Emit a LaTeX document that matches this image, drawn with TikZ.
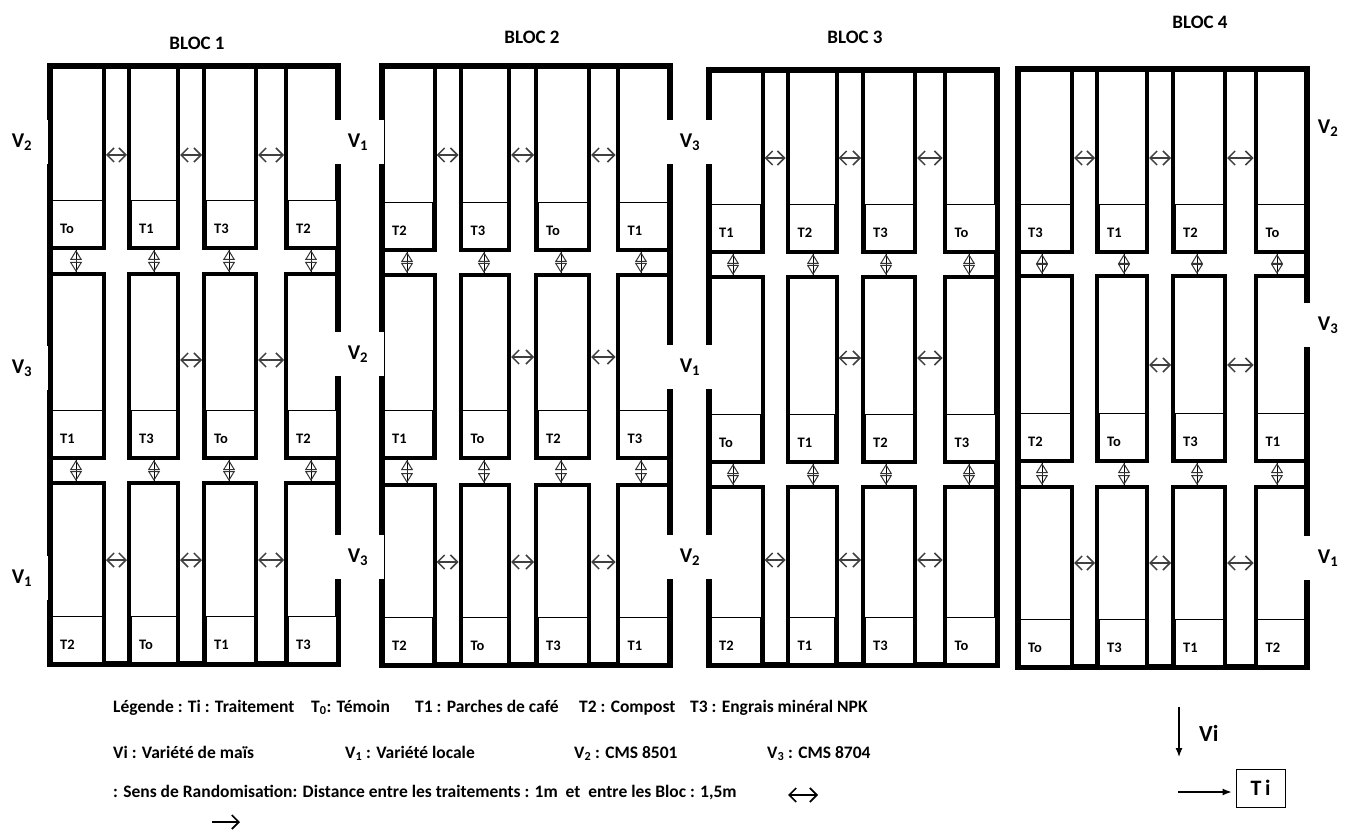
\documentclass[tikz,border=0pt]{standalone}
\usepackage{fontspec}
\setmainfont{Carlito}
\usetikzlibrary{arrows.meta}

\tikzset{
  blocline/.style={line width=6pt},
  plotline/.style={line width=4pt},
  tagbox/.style={draw, line width=0.8pt, fill=white},
  plotlabel/.style={anchor=west, inner sep=0pt, font=\bfseries\fontsize{14.5}{14.5}\selectfont},
  varlab/.style={fill=white, minimum width=52pt, minimum height=44pt, inner sep=0pt, font=\bfseries\fontsize{21}{21}\selectfont},
  bloctitle/.style={font=\bfseries\fontsize{19}{19}\selectfont},
  legende/.style={anchor=base west, inner sep=0pt, font=\bfseries\fontsize{17.5}{17.5}\selectfont},
  hfleche/.style={{Straight Barb[length=7pt,width=14pt]}-{Straight Barb[length=7pt,width=14pt]}, line width=1.5pt, black!75},
  vfleche/.style={{Triangle[open,length=10pt,width=12pt]}-{Triangle[open,length=10pt,width=12pt]}, line width=1pt, black!80},
}

% one plot: x left, x right, y top, y bottom, treatment
\newcommand{\parcelle}[5]{%
  \draw[plotline] (#1,#3) rectangle (#2,#4);
  \draw[tagbox] (#1+2,#4-48) rectangle (#2-2,#4-2);
  \node[plotlabel] at (#1+10,#4-19) {#5};
}

\begin{document}
\begin{tikzpicture}[x=1pt,y=-1pt]
\path[use as bounding box, fill=white] (0,0) rectangle (1349,834);

% BLOC 1
\node[bloctitle] (titre1) at (197,43) {BLOC 1};
\draw[blocline] (50,66) rectangle (338,664);
\foreach \yt/\yb/\ta/\tb/\tc/\td in {66/248/To/T1/T3/T2, 274/458/T1/T3/To/T2, 483/664/T2/To/T1/T3}{
  \parcelle{50}{104}{\yt}{\yb}{\ta}
  \parcelle{129}{178}{\yt}{\yb}{\tb}
  \parcelle{204}{256}{\yt}{\yb}{\tc}
  \parcelle{286}{338}{\yt}{\yb}{\td}
}
\foreach \ya in {155,560} \draw[hfleche] (106,\ya) -- (127,\ya);
\foreach \ya in {155,360,560} {\draw[hfleche] (180,\ya) -- (202,\ya); \draw[hfleche] (258,\ya) -- (284,\ya);}
\foreach \xv in {76,154,229,311} {
  \draw[line width=0.7pt] (\xv,250) -- (\xv,272); \draw[vfleche] (\xv,250) -- (\xv,272);
  \draw[line width=0.7pt] (\xv,460) -- (\xv,481); \draw[vfleche] (\xv,460) -- (\xv,481);
}

% BLOC 2
\node[bloctitle] (titre2) at (532,37) {BLOC 2};
\draw[blocline] (382,66.5) rectangle (669.5,665);
\foreach \yt/\yb/\ta/\tb/\tc/\td in {66.5/250/T2/T3/To/T1, 275/458/T1/To/T2/T3, 485/665/T2/To/T3/T1}{
  \parcelle{382}{434.5}{\yt}{\yb}{\ta}
  \parcelle{460.5}{509}{\yt}{\yb}{\tb}
  \parcelle{536}{589}{\yt}{\yb}{\tc}
  \parcelle{617.5}{669.5}{\yt}{\yb}{\td}
}
\foreach \ya in {155,562} \draw[hfleche] (436.5,\ya) -- (458.5,\ya);
\foreach \ya in {155,357,562} {\draw[hfleche] (511,\ya) -- (534,\ya); \draw[hfleche] (591,\ya) -- (615.5,\ya);}
\foreach \xv in {407,484,561,641} {
  \draw[line width=0.7pt] (\xv,252) -- (\xv,273); \draw[vfleche] (\xv,252) -- (\xv,273);
  \draw[line width=0.7pt] (\xv,460) -- (\xv,483); \draw[vfleche] (\xv,460) -- (\xv,483);
}

% BLOC 3
\node[bloctitle] (titre3) at (855,37) {BLOC 3};
\draw[blocline] (709,70) rectangle (997,665);
\foreach \yt/\yb/\ta/\tb/\tc/\td in {70/252/T1/T2/T3/To, 277/462/To/T1/T2/T3, 487/665/T2/T1/T3/To}{
  \parcelle{709}{762.5}{\yt}{\yb}{\ta}
  \parcelle{787.5}{836.5}{\yt}{\yb}{\tb}
  \parcelle{863}{915}{\yt}{\yb}{\tc}
  \parcelle{944.5}{997}{\yt}{\yb}{\td}
}
\foreach \ya in {158,560} \draw[hfleche] (764.5,\ya) -- (785.5,\ya);
\foreach \ya in {158,358,560} {\draw[hfleche] (838.5,\ya) -- (861,\ya); \draw[hfleche] (917,\ya) -- (942.5,\ya);}
\foreach \xv in {733,813,886,969} {
  \draw[line width=0.7pt] (\xv,254) -- (\xv,275); \draw[vfleche] (\xv,254) -- (\xv,275);
  \draw[line width=0.7pt] (\xv,464) -- (\xv,485); \draw[vfleche] (\xv,464) -- (\xv,485);
}

% BLOC 4
\node[bloctitle] (titre4) at (1200,22) {BLOC 4};
\draw[blocline] (1018,69.5) rectangle (1306.5,667);
\foreach \yt/\yb/\ta/\tb/\tc/\td in {69.5/252/T3/T1/T2/To, 276/461/T2/To/T3/T1, 487/667/To/T3/T1/T2}{
  \parcelle{1018}{1072}{\yt}{\yb}{\ta}
  \parcelle{1097}{1147}{\yt}{\yb}{\tb}
  \parcelle{1173}{1225}{\yt}{\yb}{\tc}
  \parcelle{1255.5}{1306.5}{\yt}{\yb}{\td}
}
\foreach \ya in {158,563} \draw[hfleche] (1074,\ya) -- (1095,\ya);
\foreach \ya in {158,365,563} {\draw[hfleche] (1149,\ya) -- (1171,\ya); \draw[hfleche] (1227,\ya) -- (1253.5,\ya);}
\foreach \xv in {1042,1124,1197,1277} {
  \draw[line width=0.7pt] (\xv,254) -- (\xv,274); \draw[vfleche] (\xv,254) -- (\xv,274);
  \draw[line width=0.7pt] (\xv,463) -- (\xv,485); \draw[vfleche] (\xv,463) -- (\xv,485);
}

% varietes
\node[varlab] (v1a) at (22,142) {V\textsubscript{2}};
\node[varlab] (v1b) at (22,368) {V\textsubscript{3}};
\node[varlab] (v1c) at (22,578) {V\textsubscript{1}};
\node[varlab] (v2a) at (358,142) {V\textsubscript{1}};
\node[varlab] (v2b) at (358,354) {V\textsubscript{2}};
\node[varlab] (v2c) at (358,557) {V\textsubscript{3}};
\node[varlab] (v3a) at (690,142) {V\textsubscript{3}};
\node[varlab] (v3b) at (690,367) {V\textsubscript{1}};
\node[varlab] (v3c) at (690,557) {V\textsubscript{2}};
\node[varlab, fill=none] (v4a) at (1328,128) {V\textsubscript{2}};
\node[varlab] (v4b) at (1328,325) {V\textsubscript{3}};
\node[varlab] (v4c) at (1328,558) {V\textsubscript{1}};

% legende
\node[legende] (leg1) at (113,712) {Légende : Ti : Traitement};
\node[legende] (leg2) at (311,712) {T\textsubscript{0}: Témoin};
\node[legende] (leg3) at (415,712) {T1 : Parches de café};
\node[legende] (leg4) at (579,712) {T2 : Compost};
\node[legende] (leg5) at (690,712) {T3 : Engrais minéral NPK};
\node[legende] (leg6) at (113,758) {Vi : Variété de maïs};
\node[legende] (leg7) at (345,758) {V\textsubscript{1} : Variété locale};
\node[legende] (leg8) at (574,758) {V\textsubscript{2} : CMS 8501};
\node[legende] (leg9) at (767,758) {V\textsubscript{3} : CMS 8704};
\node[legende] (leg10) at (113,797) {: Sens de Randomisation: Distance entre les traitements : 1m\ \ et\ \ entre les Bloc : 1,5m};
\coordinate (dbla) at (788,795);
\coordinate (dblb) at (818,795);
\draw[{Straight Barb[length=7pt,width=14pt]}-{Straight Barb[length=7pt,width=14pt]}, line width=1.7pt] (dbla) -- (dblb);
\coordinate (sensa) at (212,822);
\coordinate (sensb) at (240,822);
\draw[-{Straight Barb[length=7pt,width=14pt]}, line width=1.7pt] (sensa) -- (sensb);

% sens Vi et Ti
\coordinate (vihaut) at (1179,707);
\coordinate (vibas) at (1179,757);
\draw[-{Latex[length=9pt,width=7pt]}, line width=1.2pt] (vihaut) -- (vibas);
\node[anchor=west, inner sep=0pt, font=\bfseries\fontsize{23}{23}\selectfont] (vi) at (1199,733) {Vi};
\node[draw, line width=1pt, minimum width=49pt, minimum height=38pt, inner sep=0pt, font=\bfseries\fontsize{22}{22}\selectfont] (ti) at (1260.5,788) {T\,i};
\coordinate (tigauche) at (1178,792);
\draw[-{Latex[length=9pt,width=7pt]}, line width=1.2pt, shorten >=4pt] (tigauche) -- (ti.west |- tigauche);
\end{tikzpicture}
\end{document}
